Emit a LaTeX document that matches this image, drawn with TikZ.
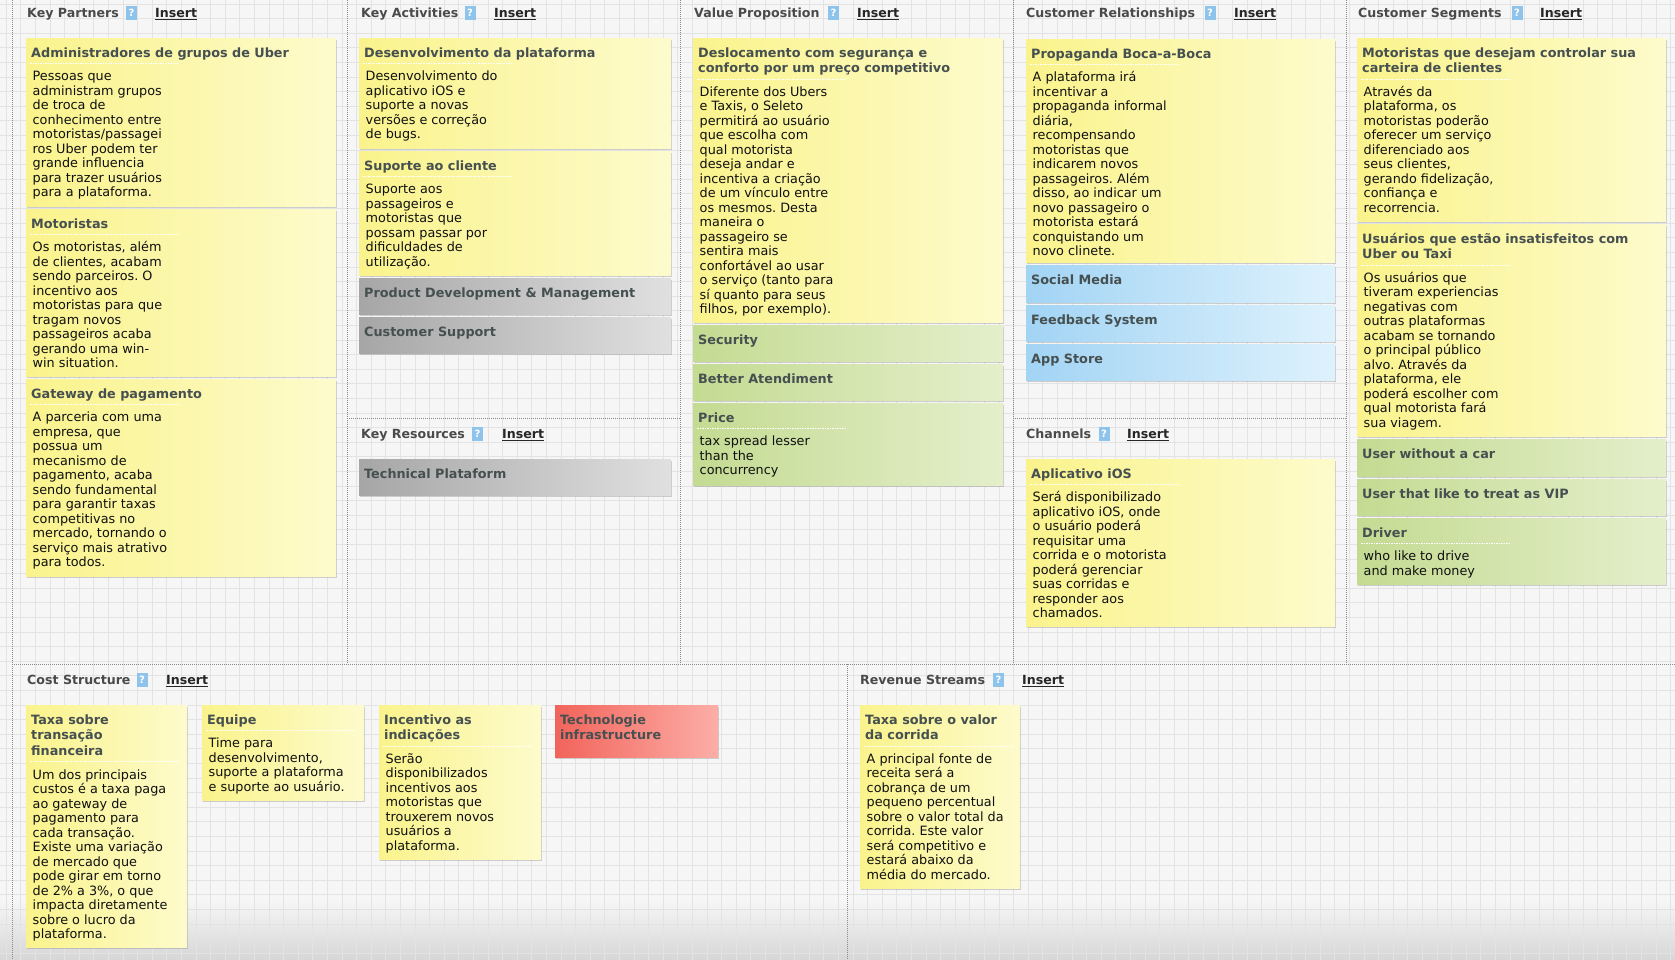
\documentclass[tikz,border=0pt]{standalone}
\usepackage{fontspec}
\setmainfont{DejaVu Sans}
\usetikzlibrary{shadows}
\frenchspacing

\definecolor{bgc}{HTML}{F6F6F6}
\definecolor{gridc}{HTML}{E3E3E3}
\definecolor{divc}{HTML}{8A8A8A}
\definecolor{headc}{HTML}{4A4A4A}
\definecolor{titlec}{HTML}{465050}
\definecolor{bodyc}{HTML}{101010}
\definecolor{qc}{HTML}{8EC3EC}
\definecolor{yelA}{HTML}{FAF38C}
\definecolor{yelB}{HTML}{FDFBCC}
\definecolor{greA}{HTML}{C4DB92}
\definecolor{greB}{HTML}{E4EFCB}
\definecolor{graA}{HTML}{A6A6A6}
\definecolor{graB}{HTML}{E0E0E0}
\definecolor{bluA}{HTML}{A2D4F4}
\definecolor{bluB}{HTML}{DEF2FD}
\definecolor{redA}{HTML}{F2645B}
\definecolor{redB}{HTML}{FCAEA7}

\tikzset{
  stickbox/.style={anchor=north west, inner sep=0, draw=none,
    drop shadow={shadow xshift=0.5pt, shadow yshift=-2pt, opacity=0.35}},
  yellownote/.style={left color=yelA, right color=yelB},
  greennote/.style={left color=greA, right color=greB},
  graynote/.style={left color=graA, right color=graB},
  bluenote/.style={left color=bluA, right color=bluB},
  rednote/.style={left color=redA, right color=redB},
  sticktitle/.style={anchor=north west, inner sep=0, align=left, text=titlec,
    font=\bfseries\fontsize{12.8}{15.7}\selectfont},
  stickbody/.style={anchor=north west, inner sep=0, align=left, text=bodyc,
    font=\fontsize{12.8}{14.5}\selectfont},
  sepline/.style={white, line width=1pt, dash pattern=on 1.5pt off 1pt},
  head/.style={anchor=base west, inner sep=0, text=headc,
    font=\bfseries\fontsize{12.6}{14}\selectfont},
  qicon/.style={fill=qc, text=white, inner sep=0, minimum width=11, minimum height=14,
    font=\bfseries\fontsize{10}{10}\selectfont},
  insertlink/.style={anchor=base west, inner sep=0, text=black!85,
    font=\bfseries\fontsize{12.6}{14}\selectfont},
  divider/.style={divc, line width=0.7pt, dash pattern=on 0.8pt off 1.2pt},
  gridline/.style={gridc, line width=0.6pt},
}

\newcommand\firststrut{\rule{0pt}{10.5pt}}

% sticky note: name, colour style, left, top, right, bottom, title lines, title, body
\newcommand\stick[9]{%
  \pgfmathsetmacro\stkW{#5-#3}%
  \pgfmathsetmacro\stkH{#6-#4}%
  \pgfmathsetmacro\stkT{#4+8.5}%
  \pgfmathsetmacro\stkL{#4+14.5+15.7*(#7-1)}%
  \pgfmathsetmacro\stkS{\stkL+11}%
  \pgfmathsetmacro\stkB{\stkL+17.5}%
  \pgfmathsetmacro\stkSW{min(150,\stkW-12)}%
  \node[stickbox,#2,minimum width=\stkW,minimum height=\stkH] (#1) at (#3,#4) {};
  \node[sticktitle] (#1-t) at (#3+5,\stkT) {\firststrut#8};
  \if\relax\detokenize{#9}\relax\else
    \draw[sepline] (#3+4,\stkS) -- ++(\stkSW,0);
    \node[stickbody] (#1-b) at (#3+6.5,\stkB) {\firststrut#9};
  \fi
}

% block heading: name, x, centre y, label, ? centre x, Insert x
\newcommand\blockhead[6]{%
  \node[head] (#1) at (#2,#3+4.5) {#4};
  \node[qicon] (#1-q) at (#5,#3) {?};
  \node[insertlink] (#1-i) at (#6,#3+4.5) {\underline{Insert}};
}

\begin{document}
\begin{tikzpicture}[x=1pt,y=-1pt]
\useasboundingbox (0,0) rectangle (1675,960);

% canvas and grid
\fill[bgc] (0,0) rectangle (1675,960);
\fill[top color=bgc, bottom color=black!16] (0,900) rectangle (1675,960);
\foreach \gx in {6,20.6,...,1675} \draw[gridline] (\gx,0) -- (\gx,960);
\foreach \gy in {4,18.6,...,960} \draw[gridline] (0,\gy) -- (1675,\gy);

% block borders
\draw[divider] (12,0) -- (12,960);
\foreach \dx in {347,680,1013,1346} \draw[divider] (\dx,0) -- (\dx,664);
\draw[divider] (12,664) -- (1675,664);
\draw[divider] (347,418) -- (680,418);
\draw[divider] (1013,418) -- (1346,418);
\draw[divider] (847,664) -- (847,960);

% headings
\blockhead{kph}{27}{13}{Key Partners}{131.5}{155}
\blockhead{kah}{361}{13}{Key Activities}{470}{494}
\blockhead{vph}{694}{13}{Value Proposition}{833.5}{857}
\blockhead{crh}{1026}{13}{Customer Relationships}{1210}{1234}
\blockhead{csh}{1358}{13}{Customer Segments}{1517}{1540}
\blockhead{krh}{361}{434}{Key Resources}{477.5}{502}
\blockhead{chh}{1026}{434}{Channels}{1104}{1127}
\blockhead{coh}{27}{680}{Cost Structure}{142}{166}
\blockhead{rsh}{860}{680}{Revenue Streams}{998.5}{1022}

% Key Partners
\stick{kp1}{yellownote}{26}{38}{336}{206}{1}{Administradores de grupos de Uber}{Pessoas que\\administram grupos\\de troca de\\conhecimento entre\\motoristas/passagei\\ros Uber podem ter\\grande influencia\\para trazer usuários\\para a plataforma.}
\stick{kp2}{yellownote}{26}{209}{336}{376}{1}{Motoristas}{Os motoristas, além\\de clientes, acabam\\sendo parceiros. O\\incentivo aos\\motoristas para que\\tragam novos\\passageiros acaba\\gerando uma win-\\win situation.}
\stick{kp3}{yellownote}{26}{379}{336}{576}{1}{Gateway de pagamento}{A parceria com uma\\empresa, que\\possua um\\mecanismo de\\pagamento, acaba\\sendo fundamental\\para garantir taxas\\competitivas no\\mercado, tornando o\\serviço mais atrativo\\para todos.}

% Key Activities and Key Resources
\stick{ka1}{yellownote}{359}{38}{671}{148}{1}{Desenvolvimento da plataforma}{Desenvolvimento do\\aplicativo iOS e\\suporte a novas\\versões e correção\\de bugs.}
\stick{ka2}{yellownote}{359}{151}{671}{275}{1}{Suporte ao cliente}{Suporte aos\\passageiros e\\motoristas que\\possam passar por\\dificuldades de\\utilização.}
\stick{ka3}{graynote}{359}{278}{671}{314}{1}{Product Development \& Management}{}
\stick{ka4}{graynote}{359}{317}{671}{353}{1}{Customer Support}{}
\stick{kr1}{graynote}{359}{459}{671}{495}{1}{Technical Plataform}{}

% Value Proposition
\stick{vp1}{yellownote}{693}{38}{1003}{322}{2}{Deslocamento com segurança e\\conforto por um preço competitivo}{Diferente dos Ubers\\e Taxis, o Seleto\\permitirá ao usuário\\que escolha com\\qual motorista\\deseja andar e\\incentiva a criação\\de um vínculo entre\\os mesmos. Desta\\maneira o\\passageiro se\\sentira mais\\confortável ao usar\\o serviço (tanto para\\sí quanto para seus\\filhos, por exemplo).}
\stick{vp2}{greennote}{693}{325}{1003}{361}{1}{Security}{}
\stick{vp3}{greennote}{693}{364}{1003}{400}{1}{Better Atendiment}{}
\stick{vp4}{greennote}{693}{403}{1003}{485}{1}{Price}{tax spread lesser\\than the\\concurrency}

% Customer Relationships and Channels
\stick{cr1}{yellownote}{1026}{39}{1335}{262}{1}{Propaganda Boca-a-Boca}{A plataforma irá\\incentivar a\\propaganda informal\\diária,\\recompensando\\motoristas que\\indicarem novos\\passageiros. Além\\disso, ao indicar um\\novo passageiro o\\motorista estará\\conquistando um\\novo clinete.}
\stick{cr2}{bluenote}{1026}{265}{1335}{302}{1}{Social Media}{}
\stick{cr3}{bluenote}{1026}{305}{1335}{341}{1}{Feedback System}{}
\stick{cr4}{bluenote}{1026}{344}{1335}{380}{1}{App Store}{}
\stick{ch1}{yellownote}{1026}{459}{1335}{626}{1}{Aplicativo iOS}{Será disponibilizado\\aplicativo iOS, onde\\o usuário poderá\\requisitar uma\\corrida e o motorista\\poderá gerenciar\\suas corridas e\\responder aos\\chamados.}

% Customer Segments
\stick{cs1}{yellownote}{1357}{38}{1666}{221}{2}{Motoristas que desejam controlar sua\\carteira de clientes}{Através da\\plataforma, os\\motoristas poderão\\oferecer um serviço\\diferenciado aos\\seus clientes,\\gerando fidelização,\\confiança e\\recorrencia.}
\stick{cs2}{yellownote}{1357}{224}{1666}{436}{2}{Usuários que estão insatisfeitos com\\Uber ou Taxi}{Os usuários que\\tiveram experiencias\\negativas com\\outras plataformas\\acabam se tornando\\o principal público\\alvo. Através da\\plataforma, ele\\poderá escolher com\\qual motorista fará\\sua viagem.}
\stick{cs3}{greennote}{1357}{439}{1666}{476}{1}{User without a car}{}
\stick{cs4}{greennote}{1357}{479}{1666}{515}{1}{User that like to treat as VIP}{}
\stick{cs5}{greennote}{1357}{518}{1666}{584}{1}{Driver}{who like to drive\\and make money}

% Cost Structure
\stick{co1}{yellownote}{26}{705}{187}{947}{3}{Taxa sobre\\transação\\financeira}{Um dos principais\\custos é a taxa paga\\ao gateway de\\pagamento para\\cada transação.\\Existe uma variação\\de mercado que\\pode girar em torno\\de 2\% a 3\%, o que\\impacta diretamente\\sobre o lucro da\\plataforma.}
\stick{co2}{yellownote}{202}{705}{364}{800}{1}{Equipe}{Time para\\desenvolvimento,\\suporte a plataforma\\e suporte ao usuário.}
\stick{co3}{yellownote}{379}{705}{541}{859}{2}{Incentivo as\\indicações}{Serão\\disponibilizados\\incentivos aos\\motoristas que\\trouxerem novos\\usuários a\\plataforma.}
\stick{co4}{rednote}{555}{705}{718}{757}{2}{Technologie\\infrastructure}{}

% Revenue Streams
\stick{rs1}{yellownote}{860}{705}{1020}{888}{2}{Taxa sobre o valor\\da corrida}{A principal fonte de\\receita será a\\cobrança de um\\pequeno percentual\\sobre o valor total da\\corrida. Este valor\\será competitivo e\\estará abaixo da\\média do mercado.}
\end{tikzpicture}
\end{document}
